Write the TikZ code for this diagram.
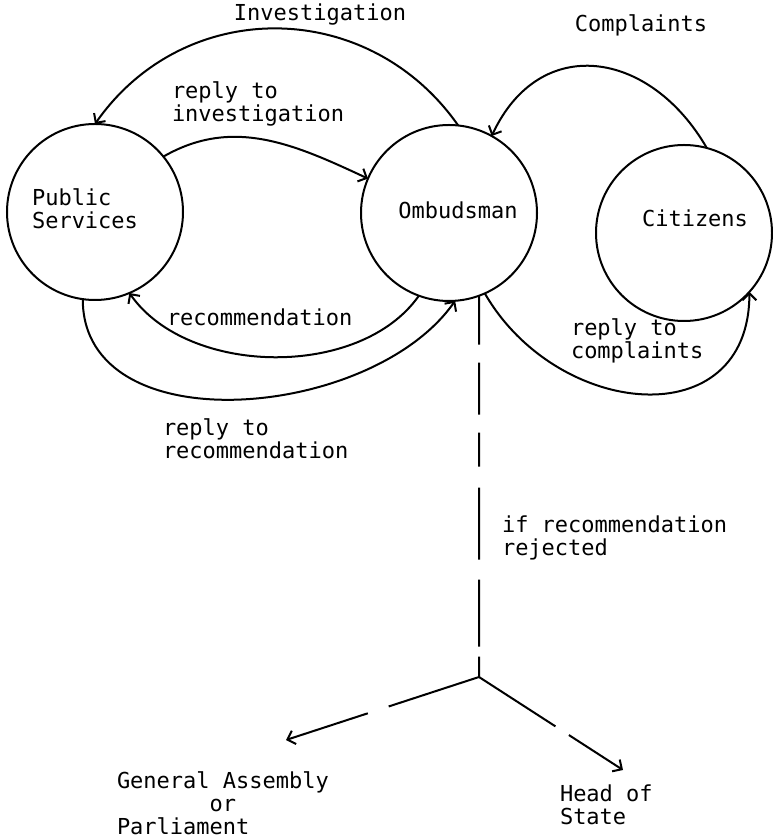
\documentclass[tikz,border=0pt]{standalone}
\usepackage{fontspec}
\setmonofont{DejaVu Sans Mono}
\usetikzlibrary{arrows.meta}

\begin{document}
\begin{tikzpicture}[x=1pt, y=1pt, font=\ttfamily\fontsize{22}{23}\selectfont, line width=2pt, >={Straight Barb[length=7pt, width=14pt]}, every node/.style={inner sep=0pt, outer sep=0pt}, party/.style={draw, circle, minimum size=176pt}, note/.style={anchor=west, align=left}]
    \useasboundingbox (0, 0) rectangle (773, 838);

    \node[party, label={[align=left, xshift=-10pt, yshift=3pt]center:Public\\Services}] (pub) at (95, 626) {};
    \node[party, label={[xshift=9pt, yshift=3pt]center:Ombudsman}] (omb) at (449, 625) {};
    \node[party, label={[xshift=11pt, yshift=15pt]center:Citizens}] (cit) at (684, 605) {};

    \node (inv) at (320, 823) {Investigation};
    \node (cmp) at (641, 813) {Complaints};
    \node[note] (rinv) at (172, 734) {reply to\\investigation};
    \node[note] (rec) at (167, 521) {recommendation};
    \node[note] (rrec) at (163, 399) {reply to\\recommendation};
    \node[note] (rcmp) at (571, 497) {reply to\\complaints};
    \node[note] (rej) at (502, 300) {if recommendation\\rejected};
    \node[note] (ga) at (117, 35) {General Assembly\\\phantom{General}or\\Parliament};
    \node[note] (hos) at (560, 33) {Head of\\State};

    \draw[->] (omb.84) to[out=125, in=55, looseness=1.1] (pub.90);
    \draw[->] (pub.39) to[out=30, in=155] (omb.157);
    \draw[->] (omb.250) to[out=235, in=305, looseness=0.9] (pub.293);
    \draw[->] (pub.262) to[out=270, in=235] (omb.274);
    \draw[->] (cit.75) to[out=120, in=65, looseness=1.35] (omb.61);
    \draw[->] (omb.294) to[out=300, in=270, looseness=1.4] (cit.318);

    \coordinate (fork) at (479, 161);
    \coordinate (gaend) at (286, 98);
    \coordinate (hosend) at (623, 68);
    \draw[dash pattern=on 49pt off 18pt on 52pt off 18pt on 34pt off 21pt on 72pt off 20pt on 67pt off 10pt on 30pt] (omb.290) -- (fork);
    \draw[->, dash pattern=on 95pt off 22pt on 200pt] (fork) -- (gaend);
    \draw[->, dash pattern=on 91pt off 16pt on 200pt] (fork) -- (hosend);
\end{tikzpicture}
\end{document}
